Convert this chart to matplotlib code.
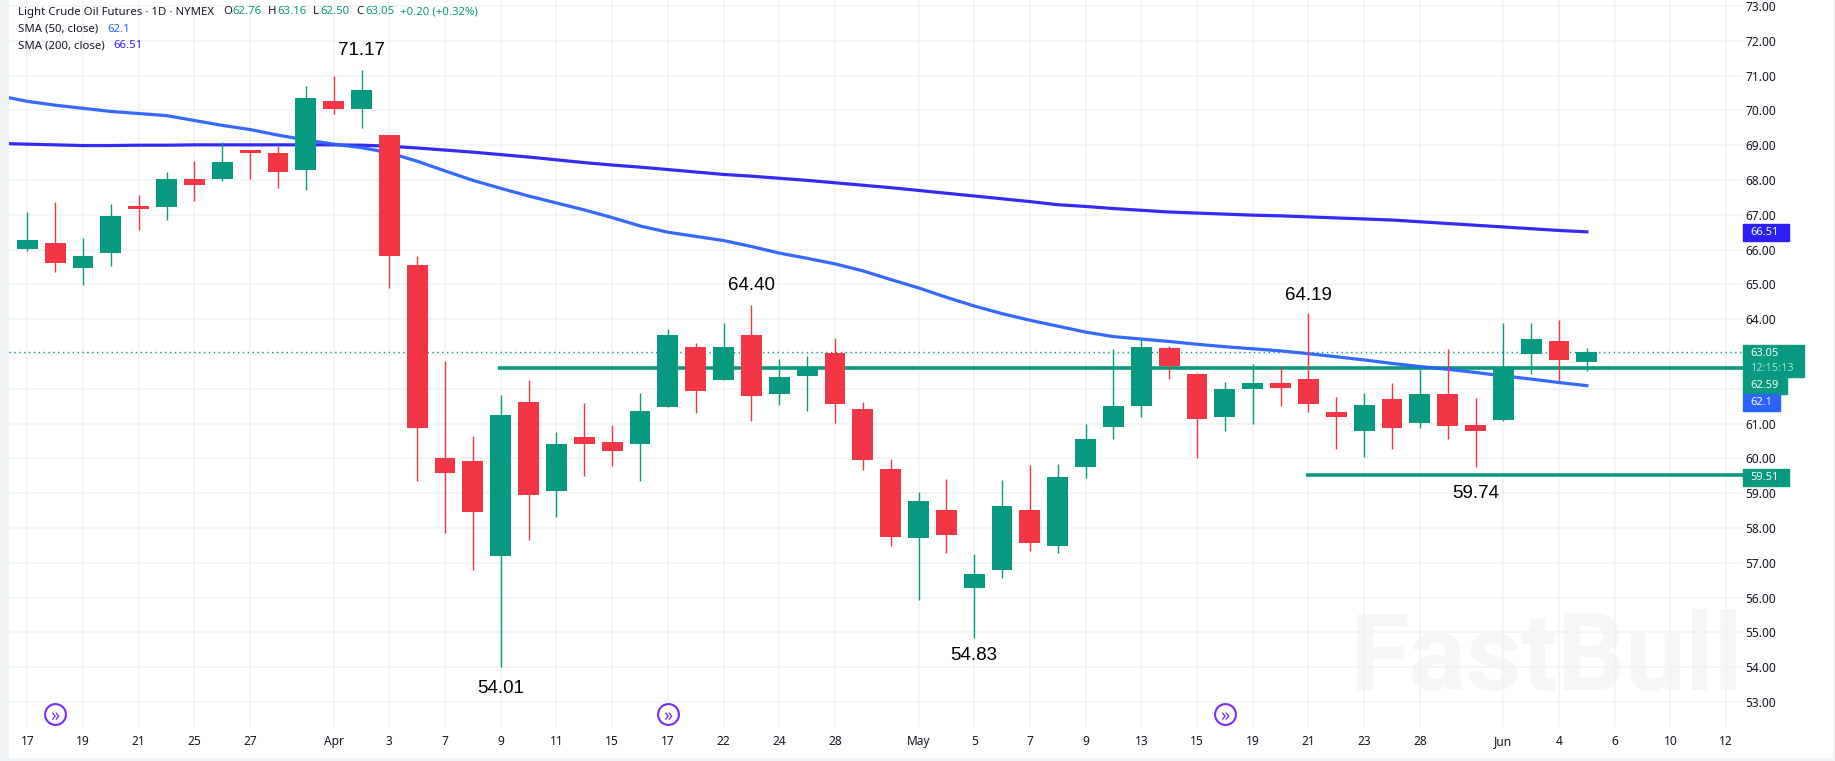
import matplotlib
matplotlib.use('Agg')
import matplotlib.pyplot as plt
from matplotlib.patches import Rectangle

plt.rcParams['font.family'] = ['Noto Sans', 'DejaVu Sans']

W, H = 1835, 761
GREEN = '#089981'
RED = '#F23645'
BLUE50 = '#2962FF'
BLUE200 = '#2B1FF2'
TEXT = '#131722'
GRID = '#F0F2F5'

# one row per daily bar
opens = [66.02, 66.18, 65.47, 65.89, 67.24, 67.21, 68.04, 68.02, 68.85, 68.79, 68.30, 70.28, 70.05, 69.28, 65.55,
         60.00, 59.92, 57.20, 61.61, 59.06, 60.61, 60.46, 60.42, 61.48, 63.20, 62.26, 63.54, 61.86, 62.38, 63.03,
         61.41, 59.69, 57.70, 58.52, 56.29, 56.78, 58.52, 57.47, 59.76, 60.90, 61.51, 63.17, 62.42, 61.20, 61.98,
         62.16, 62.28, 61.34, 60.80, 61.70, 61.02, 61.85, 60.96, 61.11, 63.01, 63.37, 62.76]
highs = [67.07, 67.38, 66.32, 67.30, 67.56, 68.22, 68.56, 69.10, 68.85, 68.99, 70.71, 71.00, 71.17, 69.30, 65.81,
         62.80, 60.63, 61.81, 62.24, 60.75, 61.58, 60.95, 61.88, 63.72, 63.31, 63.88, 64.40, 62.85, 62.94, 63.45,
         61.62, 59.98, 59.03, 59.41, 57.25, 59.38, 59.81, 59.84, 60.99, 63.14, 63.42, 63.23, 62.45, 62.19, 62.71,
         62.65, 64.19, 61.76, 61.88, 62.16, 62.60, 63.14, 61.73, 63.88, 63.88, 63.97, 63.16]
lows = [65.96, 65.35, 64.98, 65.52, 66.55, 66.84, 67.41, 67.96, 68.02, 67.76, 67.70, 69.91, 69.48, 64.89, 59.34,
        57.85, 56.79, 54.01, 57.65, 58.31, 59.49, 59.77, 59.35, 61.48, 61.31, 62.25, 61.08, 61.54, 61.35, 61.02,
        59.67, 57.47, 55.94, 57.28, 54.83, 56.57, 57.35, 57.28, 59.44, 60.56, 61.19, 62.29, 60.01, 60.79, 60.99,
        61.51, 61.32, 60.28, 60.05, 60.28, 60.88, 60.57, 59.74, 61.08, 62.43, 62.21, 62.50]
closes = [66.27, 65.62, 65.81, 66.96, 67.16, 68.02, 67.87, 68.53, 68.79, 68.22, 70.36, 70.05, 70.59, 65.81, 60.86,
          59.57, 58.46, 61.24, 58.94, 60.40, 60.40, 60.20, 61.36, 63.54, 61.95, 63.20, 61.80, 62.34, 62.62, 61.57,
          59.94, 57.73, 58.78, 57.81, 56.68, 58.63, 57.58, 59.47, 60.56, 61.50, 63.20, 62.65, 61.14, 62.00, 62.16,
          62.03, 61.57, 61.20, 61.53, 60.88, 61.85, 60.94, 60.80, 62.60, 63.42, 62.83, 63.05]

# first value of each moving average sits one bar left of the chart edge
sma50 = [70.42, 70.26, 70.15, 70.06, 69.97, 69.91, 69.85, 69.71, 69.57, 69.45, 69.29, 69.15, 69.03, 68.93, 68.78,
         68.54, 68.26, 67.99, 67.76, 67.54, 67.34, 67.14, 66.92, 66.68, 66.50, 66.38, 66.26, 66.09, 65.90, 65.75,
         65.59, 65.39, 65.14, 64.90, 64.63, 64.38, 64.16, 63.97, 63.80, 63.63, 63.50, 63.43, 63.36, 63.28, 63.21,
         63.15, 63.09, 63.01, 62.92, 62.83, 62.73, 62.64, 62.56, 62.47, 62.37, 62.28, 62.18, 62.09]
sma200 = [69.05, 69.03, 69.01, 68.99, 68.99, 69.00, 69.00, 69.01, 69.01, 69.01, 69.01, 69.01, 69.01, 69.00, 68.97,
          68.92, 68.86, 68.80, 68.73, 68.66, 68.58, 68.50, 68.43, 68.37, 68.30, 68.23, 68.16, 68.11, 68.05, 67.99,
          67.92, 67.85, 67.78, 67.70, 67.62, 67.54, 67.46, 67.38, 67.29, 67.24, 67.18, 67.13, 67.08, 67.05, 67.02,
          66.99, 66.97, 66.94, 66.91, 66.88, 66.85, 66.80, 66.75, 66.70, 66.65, 66.60, 66.55, 66.51]

date_ticks = [0, 2, 4, 6, 8, 11, 13, 15, 17, 19, 21, 23, 25, 27, 29, 32, 34, 36, 38, 40, 42, 44, 46, 48, 50, 53, 55, 57, 59, 61]
date_labels = ['17', '19', '21', '25', '27', 'Apr', '3', '7', '9', '11', '15', '17', '22', '24', '28', 'May', '5', '7',
               '9', '13', '15', '19', '21', '23', '28', 'Jun', '4', '6', '10', '12']
price_ticks = list(range(53, 74))
hidden_prices = [62, 63]  # covered by the price badges

last_close = 63.05
upper_level = 62.59
lower_level = 59.51
swing_labels = ['71.17', '64.40', '64.19', '59.74', '54.83', '54.01']
swing_bars = [12, 26, 46, 52, 34, 17]
swing_y = [71.72, 64.97, 64.69, 59.00, 54.35, 53.40]


def px(x, y):
    return x / W, 1 - y / H


fig = plt.figure(figsize=(W / 100, H / 100), dpi=100, facecolor='#F0F3F6')
fig.add_artist(Rectangle(px(9, 757), (1832 - 9) / W, 757 / H, transform=fig.transFigure, color='white', zorder=-5))

ax_left, ax_right, ax_bottom = 9, 1743, 727
ax = fig.add_axes([ax_left / W, 1 - ax_bottom / H, (ax_right - ax_left) / W, ax_bottom / H])
ax.set_xlim((ax_left - 27.3) / 27.85, (ax_right - 27.3) / 27.85)
ax.set_ylim(53 - 25 / 34.8, 53 + 702 / 34.8)
for side in ax.spines.values():
    side.set_visible(False)

ax.set_xticks(date_ticks)
ax.set_xticklabels(date_labels, fontsize=8.6, color=TEXT)
for lab in ax.get_xticklabels():
    if lab.get_text() in ('Apr', 'May', 'Jun'):
        lab.set_fontweight('bold')
ax.yaxis.tick_right()
ax.set_yticks(price_ticks)
ax.set_yticklabels(['' if p in hidden_prices else '%.2f' % p for p in price_ticks], fontsize=8.6, color=TEXT)
ax.tick_params(length=0)
ax.tick_params(axis='y', pad=1.5)
ax.tick_params(axis='x', pad=6)
ax.grid(color=GRID, linewidth=1.1)
ax.set_axisbelow(True)

# watermark
ax.text(1 - 1 / 1734, 37 / 727, 'FastBull', transform=ax.transAxes, ha='right', va='baseline', fontsize=77,
        family='Roboto', fontweight='bold', color='#F6F6F7', zorder=0.5)

# price lines
ax.axhline(last_close, color=GREEN, linewidth=1, linestyle=(0, (1, 2.5)), zorder=1)
ax.hlines(upper_level, 16.9, ax.get_xlim()[1], color=GREEN, linewidth=2.6, zorder=1.5)
ax.hlines(lower_level, 45.9, ax.get_xlim()[1], color=GREEN, linewidth=2.6, zorder=1.5)

# moving averages
sma_x = list(range(-1, 57))
ax.plot(sma_x, sma200, color=BLUE200, linewidth=2.3, alpha=0.95, zorder=2)
ax.plot(sma_x, sma50, color=BLUE50, linewidth=2.3, alpha=0.95, zorder=2)

# candles
for i in range(len(opens)):
    col = GREEN if closes[i] >= opens[i] else RED
    ax.vlines(i, lows[i], highs[i], color=col, linewidth=1, zorder=3)
    ax.bar(i, abs(closes[i] - opens[i]), bottom=min(opens[i], closes[i]), width=0.75, color=col, linewidth=0, zorder=4)

for txt, i, y in zip(swing_labels, swing_bars, swing_y):
    ax.text(i, y, txt, ha='center', va='center', fontsize=13.5, color='#000000', family='Liberation Sans', zorder=6)

# session break icons
for i in [1, 23, 43]:
    ax.plot([i], [0.0175], marker='o', markersize=15, markerfacecolor='white', markeredgecolor='#7A2CF5',
            markeredgewidth=1.5, transform=ax.get_xaxis_transform(), clip_on=False, zorder=5)
    ax.text(i, 0.0175, '»', transform=ax.get_xaxis_transform(), ha='center', va='center_baseline', fontsize=13,
            color='#7A2CF5', zorder=6)


def badge(y_top, y_bot, right, color):
    fig.add_artist(Rectangle(px(ax_right, y_bot), (right - ax_right) / W, (y_bot - y_top) / H,
                             transform=fig.transFigure, color=color, zorder=7))


def label(x, y, txt, color=TEXT, size=8.2, **kw):
    fig.text(x / W, 1 - y / H, txt, color=color, fontsize=size, va='center', zorder=8, **kw)


# price badges on the axis
badge(224, 241, 1789, BLUE200)
label(1750, 232, '66.51', 'white', size=8, fontweight='bold')
badge(345, 377, 1804, GREEN)
label(1750, 353, '63.05', 'white', size=8, fontweight='bold')
label(1750, 369, '12:15:13', '#A8DCD2', size=8)
badge(377, 394, 1787, GREEN)
label(1750, 385.5, '62.59', 'white', size=8, fontweight='bold')
badge(394, 411, 1780, BLUE50)
label(1750, 402.5, '62.1', 'white', size=8, fontweight='bold')
badge(469, 486, 1789, GREEN)
label(1750, 477, '59.51', 'white', size=8, fontweight='bold')

# legend block
label(18, 12, 'Light Crude Oil Futures · 1D · NYMEX')
for x, t, c in [(223, 'O', TEXT), (232, '62.76', GREEN), (268, 'H', TEXT), (277, '63.16', GREEN), (313, 'L', TEXT),
                (320, '62.50', GREEN), (356, 'C', TEXT), (365, '63.05', GREEN), (400, '+0.20 (+0.32%)', GREEN)]:
    label(x, 12, t, c)
label(18, 29, 'SMA (50, close)')
label(107, 29, '62.1', BLUE50)
label(18, 46, 'SMA (200, close)')
label(113, 46, '66.51', BLUE200)

fig.savefig('out.png', dpi=100, facecolor=fig.get_facecolor())
